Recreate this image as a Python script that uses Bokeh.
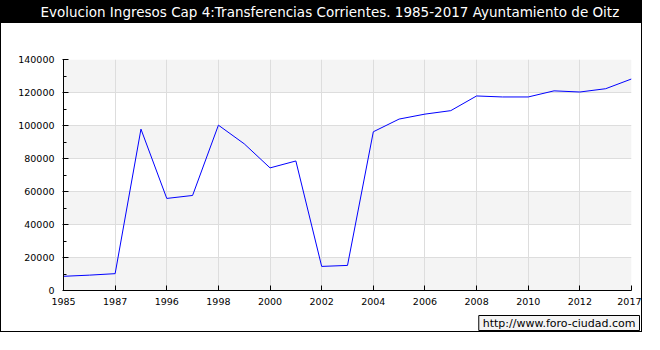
from bokeh.plotting import figure
from bokeh.models import (BoxAnnotation, FixedTicker, SingleIntervalTicker,
                          BasicTickFormatter, Range1d, Title)
from bokeh.embed import file_html
from bokeh.resources import INLINE

title_text = "Evolucion Ingresos Cap 4:Transferencias Corrientes. 1985-2017 Ayuntamiento de Oitz"
watermark = "http://www.foro-ciudad.com"

years = ["1985", "1986", "1987", "1995", "1996", "1997", "1998", "1999", "2000",
         "2001", "2002", "2003", "2004", "2005", "2006", "2007", "2008", "2009",
         "2010", "2011", "2012", "2016", "2017"]
values = [8600, 9300, 10200, 97800, 55800, 57600, 100200, 88900, 74300,
          78500, 14600, 15200, 96200, 103900, 106900, 109000, 117900, 117300,
          117300, 121000, 120300, 122300, 128200]
tick_idx = [0, 2, 4, 6, 8, 10, 12, 14, 16, 18, 20, 22]
y_max = 140000
y_step = 20000
bands = [(0, 20000), (40000, 60000), (80000, 100000), (120000, 140000)]

W, H = 642, 332
page_style = {
    "border": "1px solid black",
    "background": "linear-gradient(to bottom, #000000 0px, #000000 22px, #ffffff 22px, #ffffff 100%)",
}
p = figure(width=W, height=H, output_backend="svg", toolbar_location=None,
           x_range=Range1d(0, len(years) - 1), y_range=Range1d(0, y_max),
           min_border_left=62, min_border_right=12, min_border_top=0,
           min_border_bottom=0, styles=page_style)
p.background_fill_color = "white"
p.border_fill_alpha = 0
p.outline_line_color = None

# spacer between title bar and plot area (closest to frame)
p.add_layout(Title(text=" ", text_font_size="12px", standoff=22), "above")
# title on the black bar
p.add_layout(Title(text=title_text, align="left", offset=-23, vertical_align="middle",
                   text_color="white", text_font="DejaVu Sans", text_font_size="13.5px",
                   text_font_style="normal", standoff=2), "above")

for b, tp in bands:
    p.add_layout(BoxAnnotation(bottom=b, top=tp, fill_color="#f4f4f4", fill_alpha=1,
                               line_color=None, level="image"))

xt = FixedTicker(ticks=tick_idx)
p.xaxis.ticker = xt
p.xgrid.ticker = xt
p.xaxis.major_label_overrides = {i: years[i] for i in tick_idx}
yt = SingleIntervalTicker(interval=y_step, num_minor_ticks=2)
p.yaxis.ticker = yt
p.ygrid.ticker = yt
p.yaxis.formatter = BasicTickFormatter(use_scientific=False)

for g in (p.xgrid, p.ygrid):
    g.grid_line_color = "#dddddd"
    g.grid_line_width = 1

for ax in (p.xaxis, p.yaxis):
    ax.axis_line_color = "black"
    ax.major_tick_line_color = "black"
    ax.major_label_text_color = "black"
    ax.major_label_text_font = "DejaVu Sans"
    ax.major_label_text_font_size = "9.5px"
    ax.major_tick_in = 5
    ax.major_tick_out = 0

p.xaxis.minor_tick_line_color = None
p.xaxis.major_label_standoff = 7
p.yaxis.major_tick_out = 1
p.yaxis.minor_tick_line_color = "black"
p.yaxis.minor_tick_in = 3
p.yaxis.minor_tick_out = 0
p.yaxis.major_label_standoff = 8

p.line(x=list(range(len(years))), y=values, line_color="#0000ff", line_width=1)

# spacer between axis labels and watermark (closest to frame)
p.add_layout(Title(text=" ", text_font_size="3px", standoff=2), "below")
# watermark
p.add_layout(Title(text=watermark, align="right", offset=-8, vertical_align="top",
                   text_color="black", text_font="DejaVu Sans", text_font_size="11px",
                   text_font_style="normal", standoff=2,
                   background_fill_color="#f4f4f4", background_fill_alpha=1,
                   border_line_color="black", border_line_width=1,
                   padding=dict(left=4, right=4, top=1, bottom=1)), "below")

open("out.html", "w").write(file_html(p, INLINE))
